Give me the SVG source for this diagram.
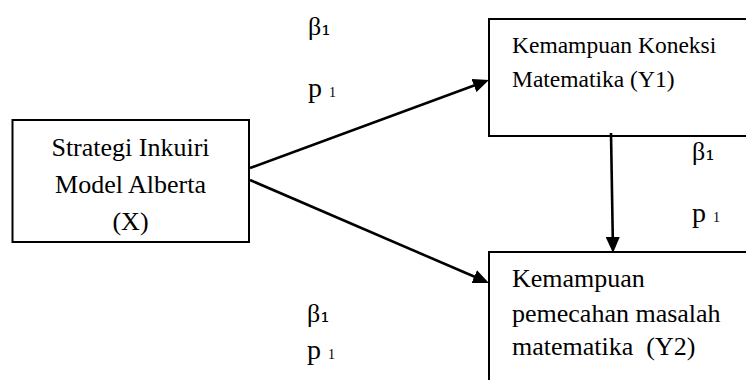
<svg xmlns="http://www.w3.org/2000/svg" width="746" height="380" viewBox="0 0 746 380">
  <style>
    .box { fill: #ffffff; stroke: #000000; stroke-width: 2; }
    .lbl { font-family: "Liberation Serif", "Times New Roman", serif; fill: #000000; white-space: pre; }
    .big { font-size: 26px; }
    .mid { font-size: 23.5px; }
    .coef { font-family: "Liberation Serif", "DejaVu Serif", serif; font-size: 26px; fill: #000000; }
    .coef tspan { font-family: "DejaVu Serif", serif; font-size: 24px; }
    .pv { font-family: "Liberation Serif", "Times New Roman", serif; font-size: 28px; fill: #000000; white-space: pre; }
    .pv tspan { font-size: 14px; }
    .edge { stroke: #000000; stroke-width: 2.6; fill: none; marker-end: url(#head); }
  </style>
  <defs>
    <marker id="head" markerUnits="userSpaceOnUse" markerWidth="16" markerHeight="14" refX="8" refY="7" orient="auto">
      <path d="M0,0 L16,7 L0,14 Z" fill="#000000"/>
    </marker>
  </defs>

  <rect width="746" height="380" fill="#ffffff"/>

  <!-- independent variable -->
  <g id="node-x">
    <rect class="box" x="12.5" y="120" width="236.5" height="122"/>
    <text class="lbl big" x="130.5" y="156" text-anchor="middle">Strategi Inkuiri</text>
    <text class="lbl big" x="130.5" y="193" text-anchor="middle">Model Alberta</text>
    <text class="lbl big" x="130.5" y="230" text-anchor="middle">(X)</text>
  </g>

  <!-- mediator -->
  <g id="node-y1">
    <rect class="box" x="489" y="19" width="270" height="117"/>
    <text class="lbl mid" x="512" y="53">Kemampuan Koneksi</text>
    <text class="lbl mid" x="512" y="87">Matematika (Y1)</text>
  </g>

  <!-- dependent variable -->
  <g id="node-y2">
    <rect class="box" x="489" y="252" width="270" height="140"/>
    <text class="lbl big" x="512" y="287">Kemampuan</text>
    <text class="lbl big" x="512" y="322">pemecahan masalah</text>
    <text class="lbl big" x="512" y="355">matematika  (Y2)</text>
  </g>

  <!-- paths between variables -->
  <g id="connectors">
    <line class="edge" x1="250" y1="168" x2="481.5" y2="82.8"/>
    <line class="edge" x1="250" y1="180" x2="481.6" y2="279.8"/>
    <line class="edge" x1="611" y1="133" x2="612.9" y2="245"/>
  </g>

  <!-- path coefficients -->
  <g id="labels">
    <text class="coef" x="308" y="35">β<tspan>₁</tspan></text>
    <text class="pv" x="308" y="97">p <tspan>1</tspan></text>

    <text class="coef" x="692" y="160">β<tspan>₁</tspan></text>
    <text class="pv" x="692" y="222">p <tspan>1</tspan></text>

    <text class="coef" x="307" y="322">β<tspan>₁</tspan></text>
    <text class="pv" x="307" y="359">p <tspan>1</tspan></text>
  </g>
</svg>
